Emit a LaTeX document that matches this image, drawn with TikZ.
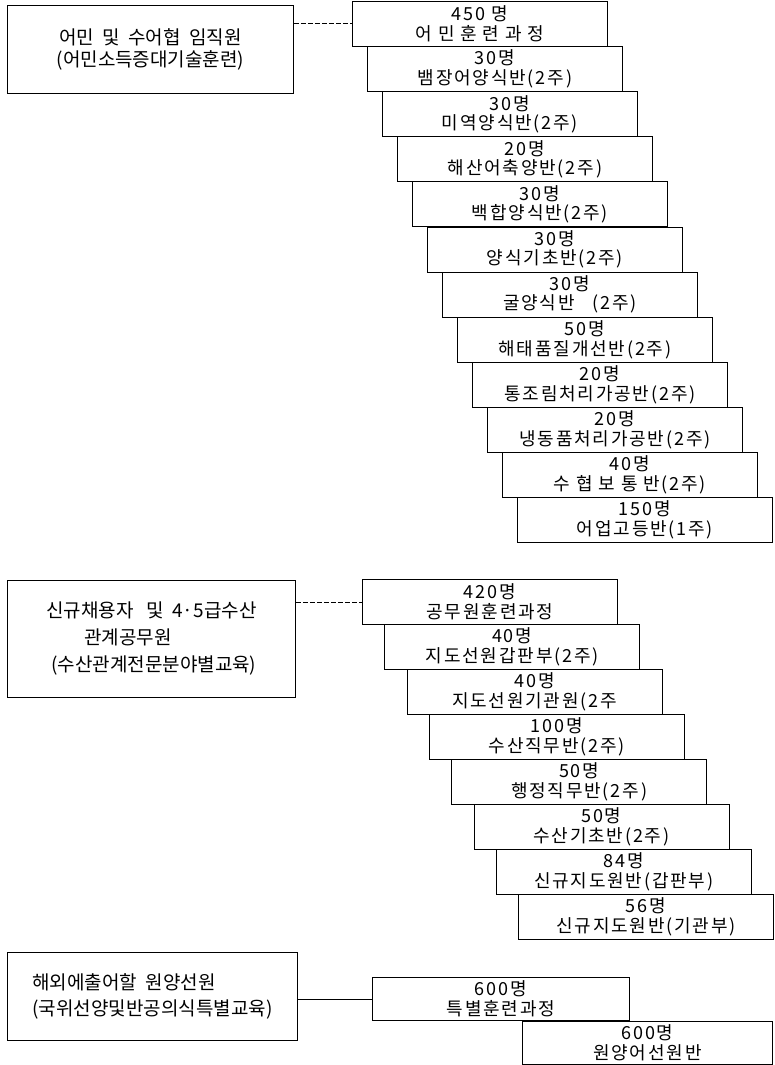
\documentclass[tikz,border=0pt]{standalone}
\usepackage{fontspec}
\setmainfont{Noto Sans CJK KR}
\newfontfamily\krbox[LetterSpace=10]{Noto Sans CJK KR}
\usetikzlibrary{positioning,calc}
\tikzset{line/.style={line width=0.9pt}, group/.style={draw, line, anchor=north west, align=center, inner sep=0pt, font=\fontsize{19}{22}\selectfont},
course/.style={draw, line, anchor=north west, minimum width=255pt, minimum height=45pt, inner sep=0pt, align=center, font=\krbox\fontsize{18}{19.5}\selectfont},
link/.style={line}, dlink/.style={line, dash pattern=on 5pt off 2pt}}

\begin{document}
\begin{tikzpicture}[x=1pt, y=-1pt]
\useasboundingbox (0,0) rectangle (775,1065);

% fishermen and cooperative staff
\node[group, minimum width=286pt, minimum height=88pt] (fisher) at (7,5) {어민 \ 및 \ 수어협 \ 임직원\\(어민소득증대기술훈련)};
\foreach \nppl/\ctitle [count=\i from 0] in {{450 명}/{어 민 훈 련 과 정}, {30명}/{뱀장어양식반(2주)}, {30명}/{미역양식반(2주)},
  {20명}/{해산어축양반(2주)}, {30명}/{백합양식반(2주)}, {30명}/{양식기초반(2주)}, {30명}/{굴양식반\quad(2주)},
  {50명}/{해태품질개선반(2주)}, {20명}/{통조림처리가공반(2주)}, {20명}/{냉동품처리가공반(2주)},
  {40명}/{수 협 보 통 반(2주)}, {150명}/{어업고등반(1주)}} {
  \node[course] (f\i) at (352+15*\i, 1+45.1*\i) {\nppl\\\ctitle};
}
\draw[dlink] (fisher.east |- f0.west) -- (f0.west);

% public officials
\node[group, minimum width=288pt, minimum height=117pt, align=left, font=\fontsize{19}{27}\selectfont] (official) at (7,580)
  {신규채용자 \ \ 및 \ 4·5급수산\\\hbox to 38pt{}관계공무원\\\hbox to 5pt{}(수산관계전문분야별교육)};
\foreach \nppl/\ctitle [count=\i from 0] in {{420명}/{공무원훈련과정}, {40명}/{지도선원갑판부(2주)}, {40명}/{지도선원기관원(2주},
  {100명}/{수산직무반(2주)}, {50명}/{행정직무반(2주)}, {50명}/{수산기초반(2주)},
  {84명}/{신규지도원반(갑판부)}, {56명}/{신규지도원반(기관부)}} {
  \node[course] (o\i) at (362+22.3*\i, 579+45*\i) {\nppl\\\ctitle};
}
\draw[dlink] (official.east |- o0.west) -- (o0.west);

% deep-sea crew
\node[group, minimum width=290pt, minimum height=88pt, align=left, font=\fontsize{19}{26}\selectfont] (crew) at (7,952) {해외에출어할 \ 원양선원\\(국위선양및반공의식특별교육)};
\node[course, minimum width=257pt, minimum height=43pt] (c0) at (372,977) {600명\\특별훈련과정};
\node[course, minimum width=250pt, minimum height=43pt] (c1) at (c0.south west -| 522,0) {600명\\원양어선원반};
\draw[link] (crew.east |- c0.west) -- (c0.west);
\end{tikzpicture}
\end{document}
